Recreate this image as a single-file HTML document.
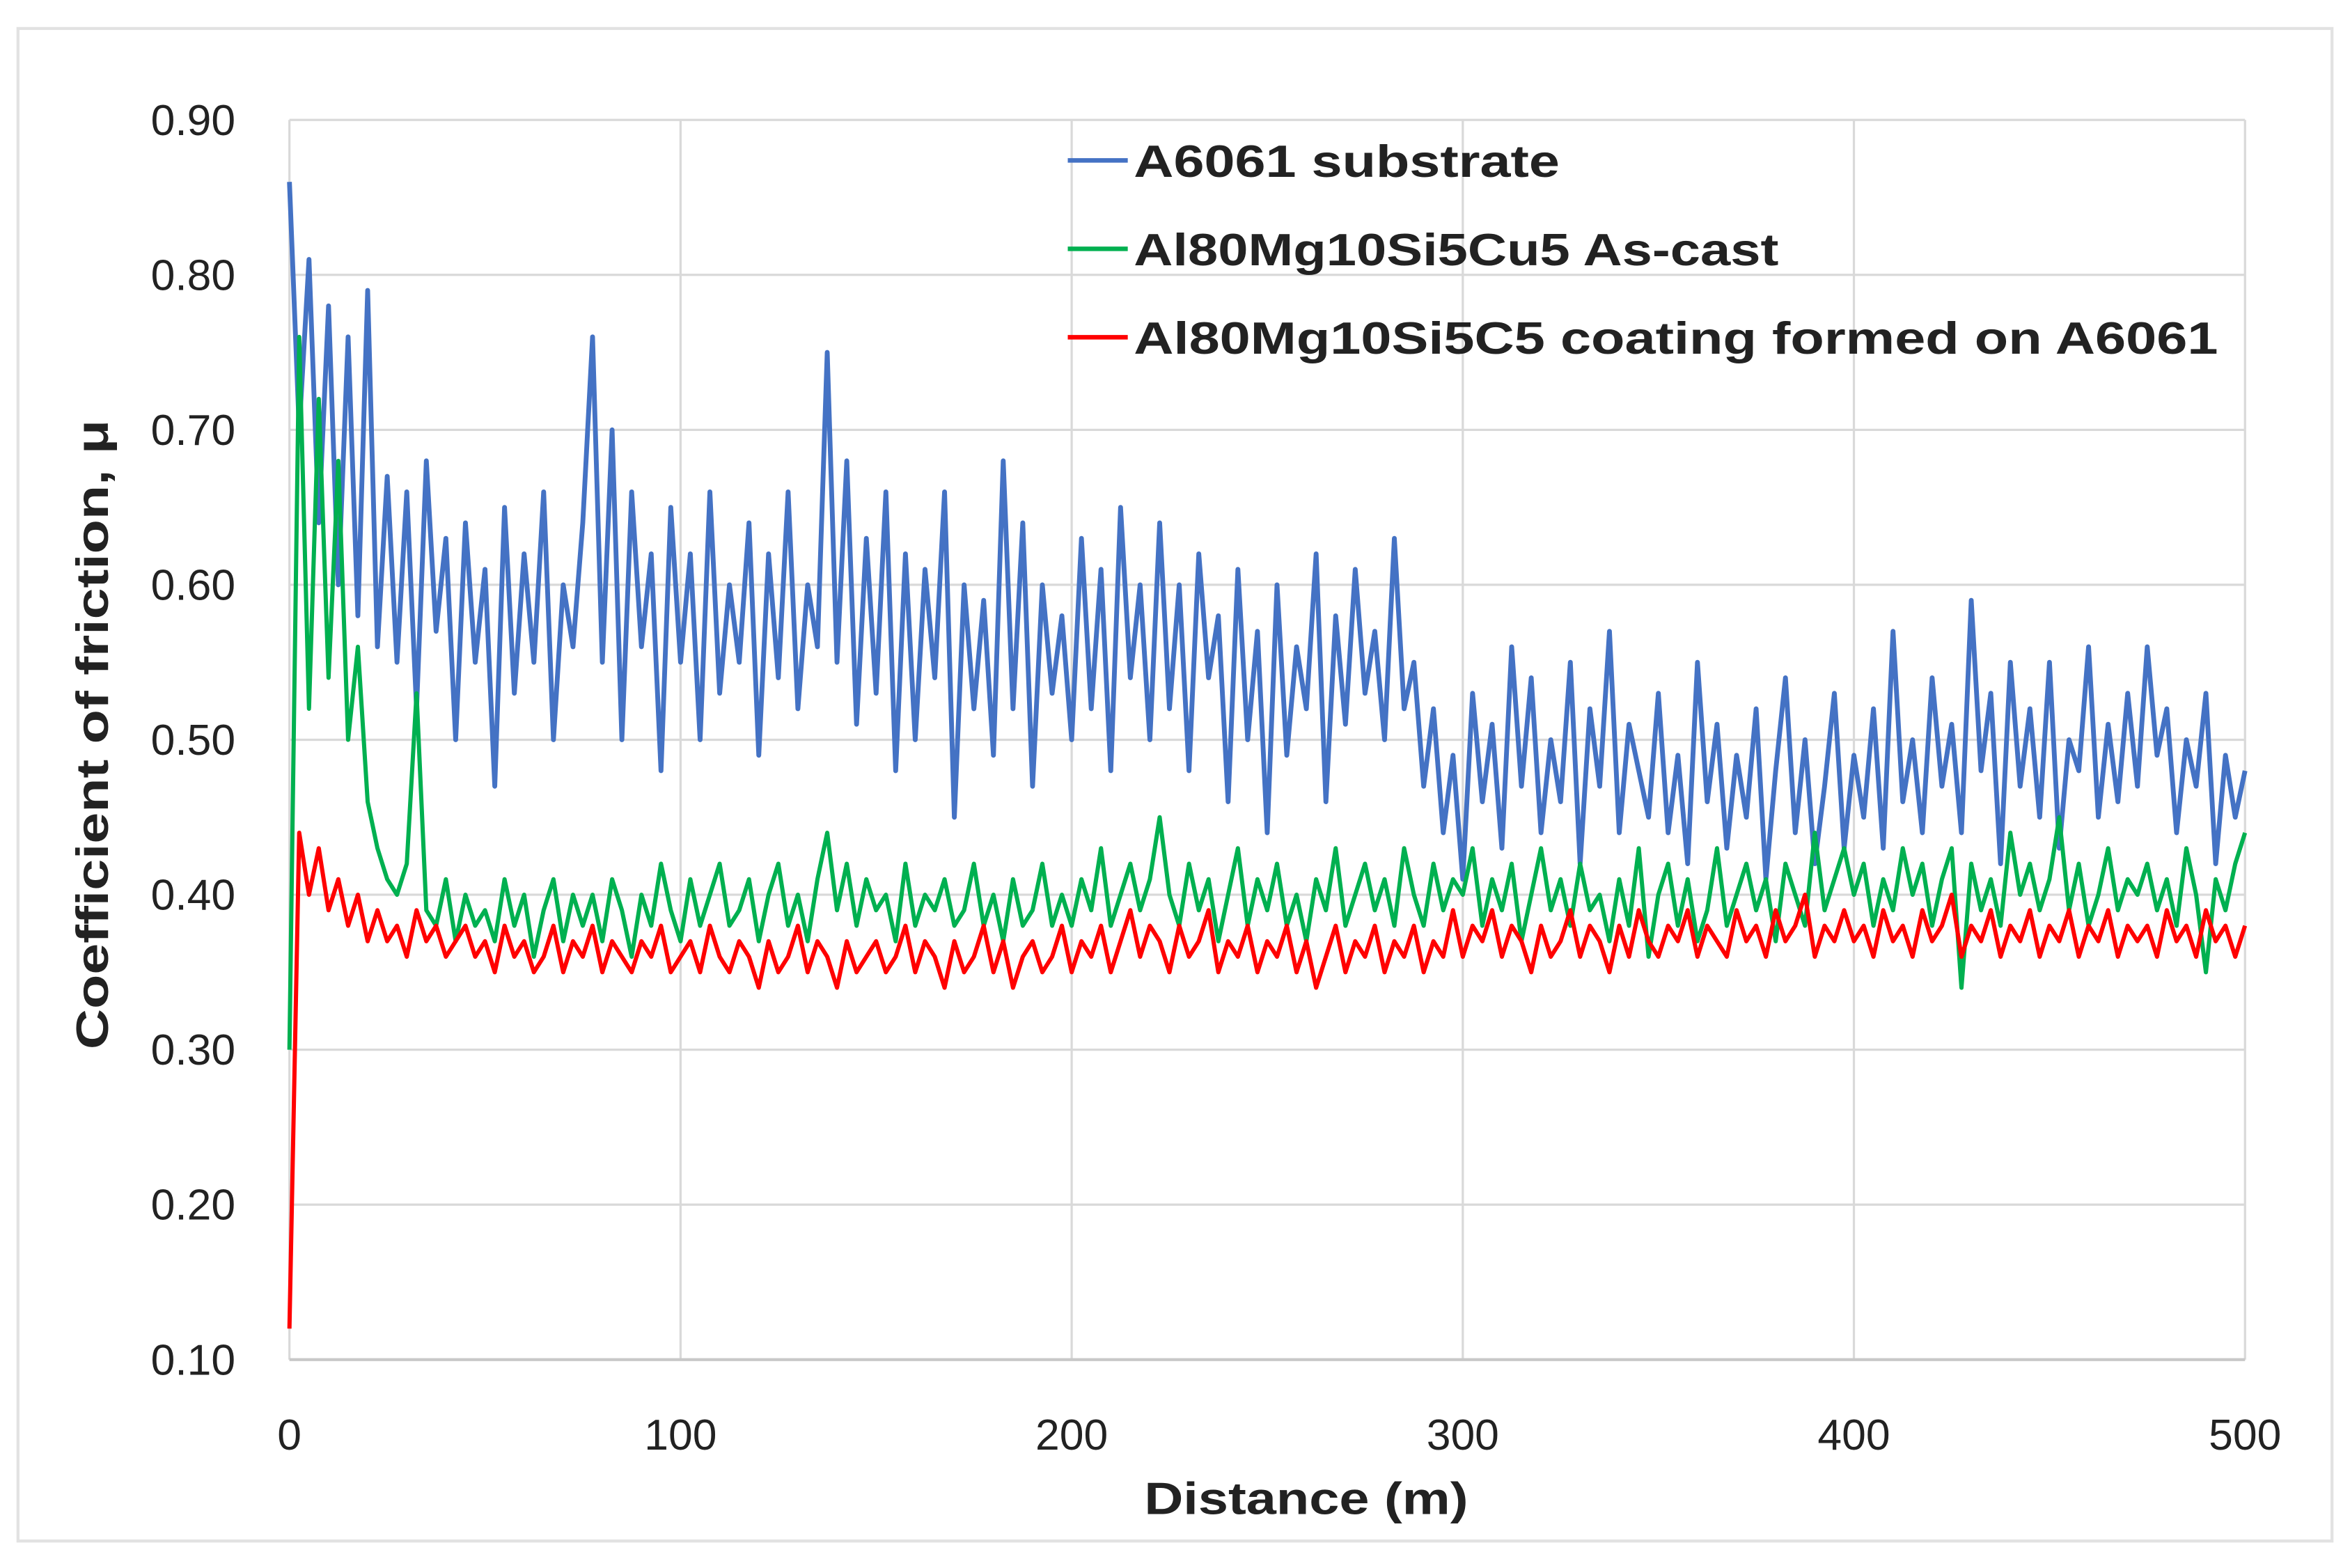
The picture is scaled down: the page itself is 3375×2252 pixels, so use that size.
<!DOCTYPE html>
<html><head><meta charset="utf-8"><style>
html,body{margin:0;padding:0;background:#fff;}
svg{display:block;}
text{font-family:"Liberation Sans",sans-serif;fill:#222;}
</style></head><body>
<svg id="chart" width="3375" height="2252" viewBox="0 0 1567 1046" preserveAspectRatio="none" xmlns="http://www.w3.org/2000/svg">
<rect x="12" y="19" width="1543" height="1009" fill="#fff" stroke="#e2e2e2" stroke-width="2"/>
<g id="grid"></g>
<g id="ticks"></g>
<g id="series"></g>
<text transform="translate(72,490) rotate(-90)" text-anchor="middle" font-size="30" font-weight="bold" textLength="420" lengthAdjust="spacingAndGlyphs">Coefficient of friction, μ</text>
<text x="871" y="1010" text-anchor="middle" font-size="30" font-weight="bold" textLength="216" lengthAdjust="spacingAndGlyphs">Distance (m)</text>
<g>
<g><line x1="712" y1="107" x2="752" y2="107" stroke="#4472c4" stroke-width="3"/><text x="756" y="118" font-size="30" font-weight="bold" textLength="284" lengthAdjust="spacingAndGlyphs">A6061 substrate</text></g>
<g><line x1="712" y1="166" x2="752" y2="166" stroke="#00b050" stroke-width="3"/><text x="756" y="177" font-size="30" font-weight="bold" textLength="430" lengthAdjust="spacingAndGlyphs">Al80Mg10Si5Cu5 As-cast</text></g>
<g><line x1="712" y1="225" x2="752" y2="225" stroke="#ff0000" stroke-width="3"/><text x="756" y="236" font-size="30" font-weight="bold" textLength="723" lengthAdjust="spacingAndGlyphs">Al80Mg10Si5C5 coating formed on A6061</text></g>
</g>
</svg>
<script>
const xTicks=[0,100,200,300,400,500];
const yTicks=[0.10,0.20,0.30,0.40,0.50,0.60,0.70,0.80,0.90];
const xStep=2.5;
const blueVals=[0.86,0.70,0.81,0.64,0.78,0.60,0.76,0.58,0.79,0.56,
0.67,0.55,0.66,0.52,0.68,0.57,0.63,0.50,0.64,0.55,
0.61,0.47,0.65,0.53,0.62,0.55,0.66,0.50,0.60,0.56,
0.64,0.76,0.55,0.70,0.50,0.66,0.56,0.62,0.48,0.65,
0.55,0.62,0.50,0.66,0.53,0.60,0.55,0.64,0.49,0.62,
0.54,0.66,0.52,0.60,0.56,0.75,0.55,0.68,0.51,0.63,
0.53,0.66,0.48,0.62,0.50,0.61,0.54,0.66,0.45,0.60,
0.52,0.59,0.49,0.68,0.52,0.64,0.47,0.60,0.53,0.58,
0.50,0.63,0.52,0.61,0.48,0.65,0.54,0.60,0.50,0.64,
0.52,0.60,0.48,0.62,0.54,0.58,0.46,0.61,0.50,0.57,
0.44,0.60,0.49,0.56,0.52,0.62,0.46,0.58,0.51,0.61,
0.53,0.57,0.50,0.63,0.52,0.55,0.47,0.52,0.44,0.49,
0.41,0.53,0.46,0.51,0.43,0.56,0.47,0.54,0.44,0.50,
0.46,0.55,0.42,0.52,0.47,0.57,0.44,0.51,0.48,0.45,
0.53,0.44,0.49,0.42,0.55,0.46,0.51,0.43,0.49,0.45,
0.52,0.41,0.48,0.54,0.44,0.50,0.42,0.47,0.53,0.43,
0.49,0.45,0.52,0.43,0.57,0.46,0.50,0.44,0.54,0.47,
0.51,0.44,0.59,0.48,0.53,0.42,0.55,0.47,0.52,0.45,
0.55,0.43,0.50,0.48,0.56,0.45,0.51,0.46,0.53,0.47,
0.56,0.49,0.52,0.44,0.50,0.47,0.53,0.42,0.49,0.45,0.48];
const greenVals=[0.30,0.76,0.52,0.72,0.54,0.68,0.50,0.56,0.46,0.43,
0.41,0.40,0.42,0.53,0.39,0.38,0.41,0.37,0.40,0.38,
0.39,0.37,0.41,0.38,0.40,0.36,0.39,0.41,0.37,0.40,
0.38,0.40,0.37,0.41,0.39,0.36,0.40,0.38,0.42,0.39,
0.37,0.41,0.38,0.40,0.42,0.38,0.39,0.41,0.37,0.40,
0.42,0.38,0.40,0.37,0.41,0.44,0.39,0.42,0.38,0.41,
0.39,0.40,0.37,0.42,0.38,0.40,0.39,0.41,0.38,0.39,
0.42,0.38,0.40,0.37,0.41,0.38,0.39,0.42,0.38,0.40,
0.38,0.41,0.39,0.43,0.38,0.40,0.42,0.39,0.41,0.45,
0.40,0.38,0.42,0.39,0.41,0.37,0.40,0.43,0.38,0.41,
0.39,0.42,0.38,0.40,0.37,0.41,0.39,0.43,0.38,0.40,
0.42,0.39,0.41,0.38,0.43,0.40,0.38,0.42,0.39,0.41,
0.40,0.43,0.38,0.41,0.39,0.42,0.37,0.40,0.43,0.39,
0.41,0.38,0.42,0.39,0.40,0.37,0.41,0.38,0.43,0.36,
0.40,0.42,0.38,0.41,0.37,0.39,0.43,0.38,0.40,0.42,
0.39,0.41,0.37,0.42,0.40,0.38,0.44,0.39,0.41,0.43,
0.40,0.42,0.38,0.41,0.39,0.43,0.40,0.42,0.38,0.41,
0.43,0.34,0.42,0.39,0.41,0.38,0.44,0.40,0.42,0.39,
0.41,0.45,0.39,0.42,0.38,0.40,0.43,0.39,0.41,0.40,
0.42,0.39,0.41,0.38,0.43,0.40,0.35,0.41,0.39,0.42,0.44];
const redVals=[0.12,0.44,0.40,0.43,0.39,0.41,0.38,0.40,0.37,0.39,
0.37,0.38,0.36,0.39,0.37,0.38,0.36,0.37,0.38,0.36,
0.37,0.35,0.38,0.36,0.37,0.35,0.36,0.38,0.35,0.37,
0.36,0.38,0.35,0.37,0.36,0.35,0.37,0.36,0.38,0.35,
0.36,0.37,0.35,0.38,0.36,0.35,0.37,0.36,0.34,0.37,
0.35,0.36,0.38,0.35,0.37,0.36,0.34,0.37,0.35,0.36,
0.37,0.35,0.36,0.38,0.35,0.37,0.36,0.34,0.37,0.35,
0.36,0.38,0.35,0.37,0.34,0.36,0.37,0.35,0.36,0.38,
0.35,0.37,0.36,0.38,0.35,0.37,0.39,0.36,0.38,0.37,
0.35,0.38,0.36,0.37,0.39,0.35,0.37,0.36,0.38,0.35,
0.37,0.36,0.38,0.35,0.37,0.34,0.36,0.38,0.35,0.37,
0.36,0.38,0.35,0.37,0.36,0.38,0.35,0.37,0.36,0.39,
0.36,0.38,0.37,0.39,0.36,0.38,0.37,0.35,0.38,0.36,
0.37,0.39,0.36,0.38,0.37,0.35,0.38,0.36,0.39,0.37,
0.36,0.38,0.37,0.39,0.36,0.38,0.37,0.36,0.39,0.37,
0.38,0.36,0.39,0.37,0.38,0.40,0.36,0.38,0.37,0.39,
0.37,0.38,0.36,0.39,0.37,0.38,0.36,0.39,0.37,0.38,
0.40,0.36,0.38,0.37,0.39,0.36,0.38,0.37,0.39,0.36,
0.38,0.37,0.39,0.36,0.38,0.37,0.39,0.36,0.38,0.37,
0.38,0.36,0.39,0.37,0.38,0.36,0.39,0.37,0.38,0.36,0.38];

const NS='http://www.w3.org/2000/svg';
const X0=193,X1=1497,Y0=907,Y1=80;
function xs(v){return X0+(v-0)/(500-0)*(X1-X0);}
function ys(v){return Y0-(v-0.10)/(0.90-0.10)*(Y0-Y1);}
function mk(tag,attrs,parent){const e=document.createElementNS(NS,tag);for(const k in attrs)e.setAttribute(k,attrs[k]);parent.appendChild(e);return e;}
const grid=document.getElementById('grid'),ticks=document.getElementById('ticks'),series=document.getElementById('series');
yTicks.forEach(t=>{
  const l=mk('line',{x1:X0,x2:X1,y1:ys(t),y2:ys(t),stroke:'#d9d9d9','stroke-width':1.5},grid);
  
  
  const tx=mk('text',{x:157,y:ys(t)+10,'text-anchor':'end','font-size':29},ticks);
  tx.textContent=t.toFixed(2);
  
  
});
xTicks.forEach(t=>{
  const l=mk('line',{x1:xs(t),x2:xs(t),y1:Y1,y2:Y0,stroke:'#d9d9d9','stroke-width':1.5},grid);
  
  
  const tx=mk('text',{x:xs(t),y:967,'text-anchor':'middle','font-size':29},ticks);
  tx.textContent=String(t);
  
  
});
const axis=mk('line',{x1:X0,x2:X1,y1:Y0,y2:Y0,stroke:'#c8c8c8','stroke-width':2},grid);


function draw(vals,color,name,w){
  const pts=vals.map((v,i)=>xs(i*xStep).toFixed(2)+','+ys(v).toFixed(2)).join(' ');
  const p=mk('polyline',{points:pts,fill:'none',stroke:color,'stroke-width':w,'stroke-linejoin':'round'},series);
  
  
}
draw(blueVals,'#4472c4','series-a6061-substrate',3.2);
draw(greenVals,'#00b050','series-as-cast',2.8);
draw(redVals,'#ff0000','series-coating',2.8);
</script>
</body></html>
